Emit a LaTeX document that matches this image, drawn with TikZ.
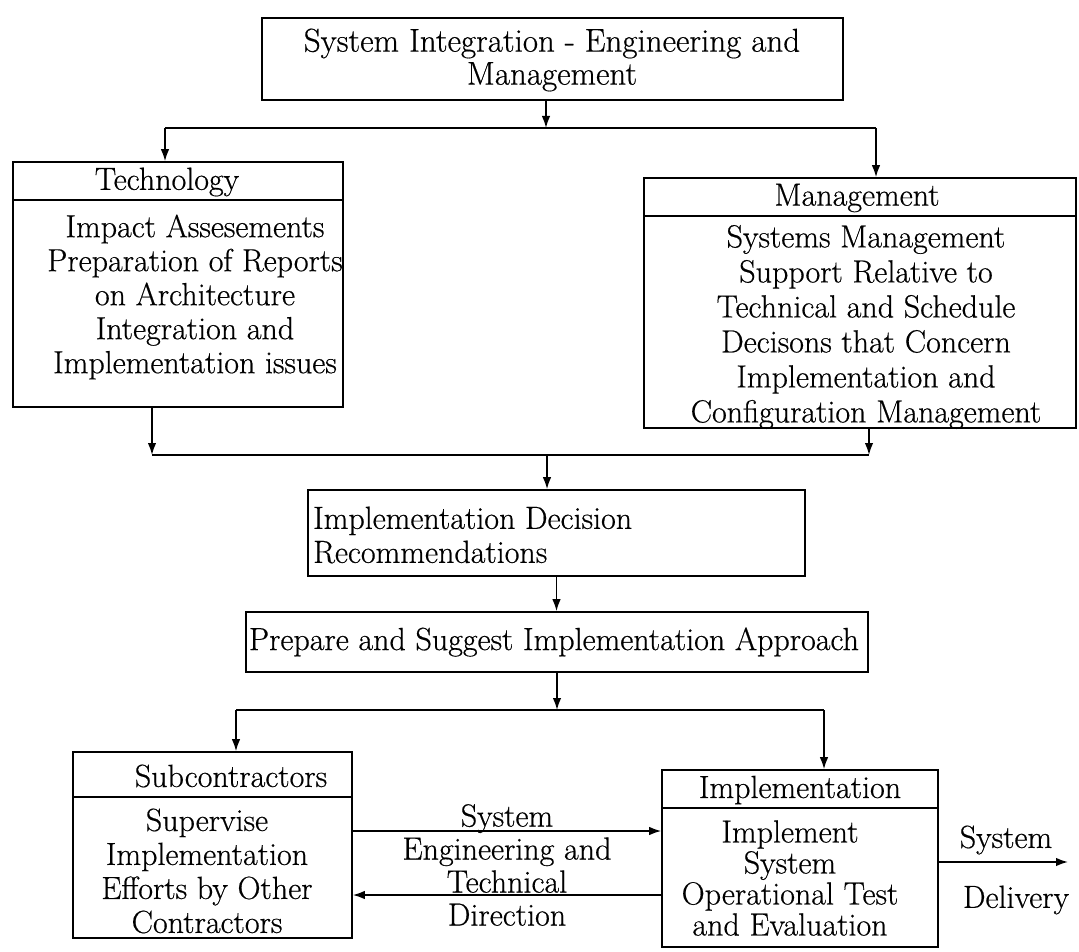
\documentclass[tikz,border=0pt]{standalone}
\usepackage{fontspec}
\setmainfont{Latin Modern Roman}[FakeBold=0.5]
\usetikzlibrary{arrows.meta}
\begin{document}
\begin{tikzpicture}[x=1pt,y=-1pt,
  box/.style={draw, line width=1.6pt, inner sep=0pt},
  txt/.style={font=\fontsize{32}{34}\selectfont, align=center, inner sep=0pt},
  line/.style={line width=1.6pt},
  arr/.style={line width=1.6pt, -{Latex[length=12pt,width=8.5pt]}}
]
\fill[white] (0,0) rectangle (1079,952);
\useasboundingbox (0,0) rectangle (1079,952);

% ---- boxes ----
\node[box, minimum width=581pt, minimum height=82pt] (top) at (552.5,59) {};
\node[txt, font=\fontsize{33}{33}\selectfont] (topT) at (552,60) {System Integration - Engineering and\\Management};

\node[box, minimum width=330pt, minimum height=38pt] (techH) at (178,181) {};
\node[box, minimum width=330pt, minimum height=207pt] (techB) at (178,303.5) {};
\node[txt] (techT) at (167,182) {Technology};
\node[txt] (techL) at (195,297) {Impact Assesements\\Preparation of Reports\\on Architecture\\Integration and\\Implementation issues};

\node[box, minimum width=432pt, minimum height=38pt] (mgmtH) at (860,197) {};
\node[box, minimum width=432pt, minimum height=212pt] (mgmtB) at (860,322) {};
\node[txt] (mgmtT) at (857,198) {Management};
\node[txt, font=\fontsize{32}{35}\selectfont] (mgmtL) at (866,327) {Systems Management\\Support Relative to\\Technical and Schedule\\Decisons that Concern\\Implementation and\\Configuration Management};

\node[box, minimum width=497pt, minimum height=86pt] (dec) at (556.5,533) {};
\node[txt, align=left, anchor=west] (decT) at (313,535) {Implementation Decision\\Recommendations};

\node[box, minimum width=622pt, minimum height=60pt] (prep) at (557,642) {};
\node[txt] (prepT) at (554,642) {Prepare and Suggest Implementation Approach};

\node[box, minimum width=279pt, minimum height=45pt] (subH) at (212.5,774.5) {};
\node[box, minimum width=279pt, minimum height=141pt] (subB) at (212.5,867.5) {};
\node[txt] (subT) at (231,776) {Subcontractors};
\node[txt] (subL) at (207,871) {Supervise\\Implementation\\Efforts by Other\\Contractors};

\node[box, minimum width=276pt, minimum height=38pt] (implH) at (800,789) {};
\node[box, minimum width=276pt, minimum height=139pt] (implB) at (800,877.5) {};
\node[txt] (implT) at (800,790) {Implementation};
\node[txt, font=\fontsize{32}{31}\selectfont] (implL) at (790,878) {Implement\\System\\Operational Test\\and Evaluation};

% ---- edge labels ----
\node[txt, font=\fontsize{32}{33}\selectfont] (sed) at (507,865) {System\\Engineering and\\Technical\\Direction};
\node[txt] (sys) at (1006,840) {System};
\node[txt] (del) at (1016,900) {Delivery};

% ---- bus junctions ----
\coordinate (b1) at (546,128);
\coordinate (bL) at (165,128);
\coordinate (bR) at (876,128);
\coordinate (cL) at (152,455);
\coordinate (cR) at (869,455);
\coordinate (cM) at (547,455);
\coordinate (dL) at (236,710);
\coordinate (dR) at (824,710);
\coordinate (dM) at (557,710);
\coordinate (h1) at (0,831);
\coordinate (h2) at (0,895);
\coordinate (dv) at (1068,862);

% ---- connectors ----
\draw[arr] (top.south -| b1) -- (b1);
\draw[line] (bL) -- (bR);
\draw[arr] (bL) -- (bL |- techH.north);
\draw[arr] (bR) -- (bR |- mgmtH.north);

\draw[arr] (techB.south -| cL) -- (cL);
\draw[arr] (mgmtB.south -| cR) -- (cR);
\draw[line] (cL) -- (cR);
\draw[arr] (cM) -- (cM |- dec.north);

\draw[arr] (dec.south) -- (dec.south |- prep.north);

\draw[arr] (prep.south) -- (dM);
\draw[line] (dL) -- (dR);
\draw[arr] (dL) -- (dL |- subH.north);
\draw[arr] (dR) -- (dR |- implH.north);

\draw[arr] (subB.east |- h1) -- (implB.west |- h1);
\draw[arr] (implB.west |- h2) -- (subB.east |- h2);
\draw[arr] (implB.east |- dv) -- (dv);
\end{tikzpicture}
\end{document}
